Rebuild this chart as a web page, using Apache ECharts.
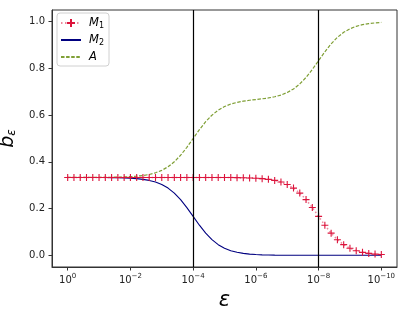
<!DOCTYPE html>
<html>
<head>
<meta charset="utf-8">
<script src="https://cdn.jsdelivr.net/npm/echarts@6/dist/echarts.min.js"></script>
<style>html,body{margin:0;padding:0;background:#fff}#c{width:407px;height:314px}</style>
</head>
<body>
<div id="c"></div>
<script>
// log10(epsilon) sample positions
var logEps = [0,-0.2,-0.4,-0.6,-0.8,-1,-1.2,-1.4,-1.6,-1.8,-2,-2.2,-2.4,-2.6,-2.8,-3,-3.2,-3.4,-3.6,-3.8,-4,-4.2,-4.4,-4.6,-4.8,-5,-5.2,-5.4,-5.6,-5.8,-6,-6.2,-6.4,-6.6,-6.8,-7,-7.2,-7.4,-7.6,-7.8,-8,-8.2,-8.4,-8.6,-8.8,-9,-9.2,-9.4,-9.6,-9.8,-10];
var m1 = [0.3333,0.3333,0.3333,0.3333,0.3333,0.3333,0.3333,0.3333,0.3333,0.3333,0.3333,0.3333,0.3333,0.3333,0.3333,0.3333,0.3333,0.3333,0.3333,0.3333,0.3333,0.3333,0.3332,0.3332,0.3331,0.3330,0.3328,0.3325,0.3320,0.3312,0.3300,0.3281,0.3252,0.3206,0.3135,0.3030,0.2877,0.2664,0.2384,0.2044,0.1667,0.1289,0.0949,0.0669,0.0456,0.0303,0.0198,0.0128,0.0082,0.0052,0.0033];
var m2 = [0.3333,0.3333,0.3332,0.3332,0.3331,0.3330,0.3328,0.3325,0.3320,0.3312,0.3300,0.3281,0.3252,0.3206,0.3135,0.3030,0.2877,0.2664,0.2384,0.2044,0.1667,0.1289,0.0949,0.0669,0.0456,0.0303,0.0198,0.0128,0.0082,0.0052,0.0033,0.0021,0.0013,0.0008,0.0005,0.0003,0.0002,0.0001,0.0001,0,0,0,0,0,0,0,0,0,0,0,0];
var aVals = [0.3334,0.3334,0.3335,0.3335,0.3336,0.3337,0.3339,0.3342,0.3347,0.3355,0.3367,0.3386,0.3415,0.3461,0.3532,0.3637,0.3790,0.4003,0.4283,0.4623,0.5000,0.5378,0.5719,0.5999,0.6213,0.6367,0.6474,0.6547,0.6598,0.6636,0.6667,0.6698,0.6735,0.6786,0.6860,0.6967,0.7121,0.7335,0.7615,0.7956,0.8333,0.8711,0.9051,0.9331,0.9544,0.9697,0.9802,0.9872,0.9918,0.9948,0.9967];
var xTicks = [0,-2,-4,-6,-8,-10];
var yTicks = [0,0.2,0.4,0.6,0.8,1.0];
var vLines = [-4,-8];

function pairs(v){ return logEps.map(function(x,i){ return [x, v[i]]; }); }
var FONT = 'DejaVu Sans';
var NOSYM = 'path://M0,0L10,0M0,10L10,10';
var chart = echarts.init(document.getElementById('c'), null, {renderer:'canvas'});
chart.setOption({
  animation:false,
  backgroundColor:'#fff',
  grid:{left:52,right:10,top:10,bottom:47,show:true,borderColor:'#333',borderWidth:1,backgroundColor:'transparent',outerBoundsMode:'none',containLabel:false},
  legend:{
    orient:'vertical', left:57, top:13,
    backgroundColor:'rgba(255,255,255,0.8)', borderColor:'#d0d0d0', borderWidth:1, borderRadius:3,
    padding:[4,5,3,3], itemWidth:20, itemHeight:10, itemGap:4.5,
    data:['M1','M2','A'],
    formatter:function(n){
      if(n==='A') return '{i|A}';
      return '{i|M}{s|'+n.slice(1)+'}';
    },
    textStyle:{fontFamily:FONT,color:'#000',padding:[0,0,0,3],
      rich:{i:{fontFamily:FONT,fontStyle:'italic',fontSize:11.5,color:'#000'},
            s:{fontFamily:FONT,fontSize:8,color:'#000',padding:[5,0,0,0]}}}
  },
  xAxis:{
    type:'value', min:-10.5, max:0.5, inverse:true,
    name:'ε', nameLocation:'middle', nameGap:16,
    nameTextStyle:{fontFamily:FONT,fontStyle:'italic',fontSize:21,color:'#000'},
    axisLine:{show:true,onZero:false,lineStyle:{color:'#333',width:1}},
    axisTick:{show:true,length:3.5,inside:false,customValues:xTicks,lineStyle:{color:'#333'}},
    splitLine:{show:false},
    axisLabel:{customValues:xTicks,margin:6,fontFamily:FONT,fontSize:10,color:'#222',
      formatter:function(v){ var e = (v===0)?'0':'−'+(-v); return '{b|10}{e|'+e+'}'; },
      rich:{b:{fontFamily:FONT,fontSize:10,color:'#222'},e:{fontFamily:FONT,fontSize:7,color:'#222',padding:[0,0,7,0]}}}
  },
  yAxis:{
    type:'value', min:-0.05, max:1.05,
    name:'{b|b}{s|ε}', nameLocation:'middle', nameGap:19, nameRotate:90,
    nameTextStyle:{rich:{b:{fontFamily:FONT,fontStyle:'italic',fontSize:19,color:'#000'},
                         s:{fontFamily:FONT,fontStyle:'italic',fontSize:12,color:'#000',padding:[9,0,0,0]}}},
    axisLine:{show:true,onZero:false,lineStyle:{color:'#333',width:1}},
    axisTick:{show:true,length:3.5,customValues:yTicks,lineStyle:{color:'#333'}},
    splitLine:{show:false},
    axisLabel:{customValues:yTicks,margin:7,fontFamily:FONT,fontSize:10,color:'#222',
      formatter:function(v){ return v.toFixed(1); }}
  },
  series:[
    {name:'M1',type:'line',data:pairs(m1),
     symbol:'path://M5,0L5,10M0,5L10,5',symbolSize:7,showSymbol:true,showAllSymbol:true,
     itemStyle:{color:'#DC143C',borderColor:'#DC143C',borderWidth:1.1},
     lineStyle:{color:'rgba(220,20,60,0.5)',type:[1.5,2.5],width:1.5},z:3},
    {name:'M2',type:'line',data:pairs(m2),symbol:NOSYM,showSymbol:false,
     itemStyle:{color:'#000080',borderWidth:0},lineStyle:{color:'#000080',width:1.1},z:2,
     markLine:{silent:true,symbol:['none','none'],label:{show:false},
       lineStyle:{color:'#000',width:1.2,type:'solid'},
       data:vLines.map(function(v){return {xAxis:v};})}},
    {name:'A',type:'line',data:pairs(aVals),symbol:NOSYM,showSymbol:false,
     itemStyle:{color:'#7f9f35',borderWidth:0},lineStyle:{color:'#7f9f35',width:1.2,type:[3.5,1.6]},z:2}
  ]
});
</script>
</body>
</html>
